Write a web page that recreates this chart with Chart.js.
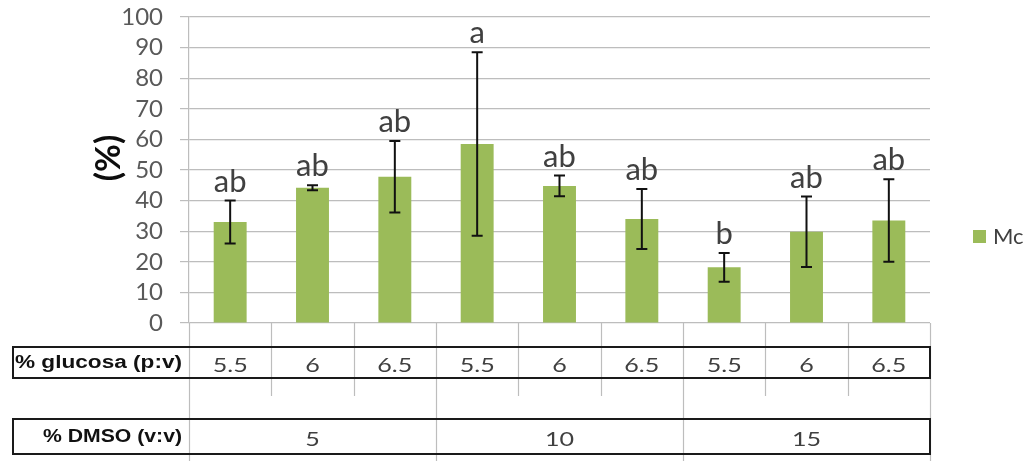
<!DOCTYPE html>
<html>
<head>
<meta charset="utf-8">
<script src="https://cdn.jsdelivr.net/npm/chart.js@4.4.1/dist/chart.umd.min.js"></script>
<style>
  html, body { margin: 0; padding: 0; background: #ffffff; }
  #wrap { width: 1034px; height: 461px; position: relative; }
</style>
</head>
<body>
<div id="wrap"><canvas id="c" width="1034" height="461"></canvas></div>
<script>
// ---- data ----
const categories = ['5.5', '6', '6.5', '5.5', '6', '6.5', '5.5', '6', '6.5'];
const dmsoGroups = ['5', '10', '15'];
const seriesName = 'Mc';
const meanValues = [33, 44.2, 47.8, 58.5, 44.8, 34, 18.2, 29.8, 33.5];
const errorValues = [7, 0.8, 11.7, 30, 3.4, 9.8, 4.7, 11.5, 13.5];
const letters = ['ab', 'ab', 'ab', 'a', 'ab', 'ab', 'b', 'ab', 'ab'];
const rowLabels = ['% glucosa (p:v)', '% DMSO (v:v)'];
const yAxisTitle = '(%)';

const BAR_COLOR = '#9bbb59';
const GRID_COLOR = '#bdbdbd';
const TEXT_COLOR = '#404040';

const extras = {
  id: 'extras',
  afterDatasetsDraw(chart) {
    const ctx = chart.ctx;
    const ys = chart.scales.y;
    const meta = chart.getDatasetMeta(0);
    ctx.save();
    meta.data.forEach((bar, i) => {
      const x = bar.x;
      const top = ys.getPixelForValue(meanValues[i] + errorValues[i]);
      const bot = ys.getPixelForValue(meanValues[i] - errorValues[i]);
      ctx.strokeStyle = '#111111';
      ctx.lineWidth = 2;
      ctx.beginPath();
      ctx.moveTo(x, top); ctx.lineTo(x, bot);
      ctx.moveTo(x - 5.5, top); ctx.lineTo(x + 5.5, top);
      ctx.moveTo(x - 5.5, bot); ctx.lineTo(x + 5.5, bot);
      ctx.stroke();
      ctx.fillStyle = TEXT_COLOR;
      ctx.font = '31px Lato';
      ctx.textAlign = 'center';
      ctx.textBaseline = 'alphabetic';
      ctx.fillText(letters[i], x, top - 9);
    });
    ctx.restore();
  },
  afterDraw(chart) {
    const ctx = chart.ctx;
    const area = chart.chartArea;
    const xs = chart.scales.x;
    const n = categories.length;
    const cw = (area.right - area.left) / n;
    ctx.save();
    // vertical lines below the plot
    ctx.strokeStyle = GRID_COLOR;
    ctx.lineWidth = 1.2;
    for (let i = 0; i <= n; i++) {
      const x = Math.round(area.left + i * cw) + 0.5;
      const groupEdge = (i % 3 === 0);
      ctx.beginPath();
      ctx.moveTo(x, area.bottom);
      ctx.lineTo(x, groupEdge ? 461 : 396);
      ctx.stroke();
    }
    // row boxes
    const boxL = 13, boxR = area.right;
    const rows = [{ t: 347, b: 378 }, { t: 419, b: 454 }];
    ctx.strokeStyle = '#1a1a1a';
    ctx.lineWidth = 2;
    rows.forEach(r => ctx.strokeRect(boxL, r.t, boxR - boxL, r.b - r.t));
    // row labels (bold, right aligned)
    ctx.fillStyle = '#111111';
    ctx.textBaseline = 'middle';
    const labelRight = 182;
    const labelWidths = [167, 139];
    rowLabels.forEach((lab, k) => {
      ctx.font = 'bold 18px "Liberation Sans"';
      const w = ctx.measureText(lab).width;
      const sx = labelWidths[k] / w;
      ctx.save();
      ctx.translate(labelRight, (rows[k].t + rows[k].b) / 2 + 1);
      ctx.scale(sx, 1);
      ctx.textAlign = 'right';
      ctx.fillText(lab, 0, 0);
      ctx.restore();
    });
    // category values (slightly widened, as in the source)
    ctx.fillStyle = TEXT_COLOR;
    ctx.font = '20px Lato';
    ctx.textAlign = 'center';
    const vsx = 35 / ctx.measureText('5.5').width;
    const drawWide = (txt, cx, cy) => {
      ctx.save();
      ctx.translate(cx, cy);
      ctx.scale(vsx, 1);
      ctx.fillText(txt, 0, 0);
      ctx.restore();
    };
    categories.forEach((c, i) => {
      drawWide(c, xs.getPixelForValue(i), (rows[0].t + rows[0].b) / 2 + 3);
    });
    dmsoGroups.forEach((g, k) => {
      drawWide(g, area.left + (k * 3 + 1.5) * cw, (rows[1].t + rows[1].b) / 2 + 3);
    });
    // y axis title
    ctx.save();
    ctx.translate(109, 158);
    ctx.rotate(-Math.PI / 2);
    ctx.font = 'bold 34px Lato';
    ctx.fillStyle = '#0d0d0d';
    ctx.textAlign = 'center';
    ctx.textBaseline = 'middle';
    ctx.fillText(yAxisTitle, 0, 0);
    ctx.restore();
    // legend
    ctx.fillStyle = BAR_COLOR;
    ctx.fillRect(973, 230, 13, 13);
    ctx.fillStyle = TEXT_COLOR;
    ctx.font = '22px Lato';
    ctx.textAlign = 'left';
    ctx.textBaseline = 'middle';
    ctx.fillText(seriesName, 993, 237);
    ctx.restore();
  }
};

new Chart(document.getElementById('c'), {
  type: 'bar',
  data: {
    labels: categories,
    datasets: [{
      label: seriesName,
      data: meanValues,
      backgroundColor: BAR_COLOR,
      borderWidth: 0,
      barPercentage: 0.4,
      categoryPercentage: 1.0
    }]
  },
  options: {
    responsive: false,
    animation: false,
    devicePixelRatio: 1,
    layout: { padding: { left: 0, right: 104, top: 17, bottom: 138 } },
    plugins: { legend: { display: false }, tooltip: { enabled: false } },
    scales: {
      x: { display: false },
      y: {
        min: 0, max: 100,
        ticks: { stepSize: 10, autoSkip: false, color: '#595959', font: { family: 'Lato', size: 24 }, padding: 17 },
        grid: { color: GRID_COLOR, lineWidth: 1.2, tickLength: 9, drawTicks: true },
        border: { display: true, color: GRID_COLOR, width: 1.2 },
        afterFit(s) { s.width = 189; s.paddingTop = 10; s.paddingBottom = 10; }
      }
    }
  },
  plugins: [extras]
});
</script>
</body>
</html>
